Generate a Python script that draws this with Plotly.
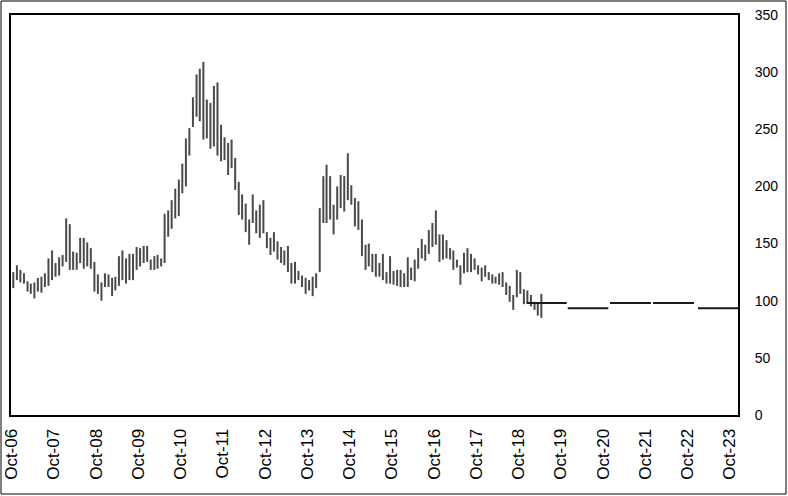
import plotly.graph_objects as go
import pandas as pd

# Monthly high/low bars, Oct-06 .. Apr-19
bar_months = pd.date_range("2006-10-01", periods=151, freq="MS") + pd.Timedelta(days=14)

highs = [125, 131, 127, 124, 117, 115, 116, 120, 121, 124, 137, 144,
         133, 138, 140, 172, 167, 143, 142, 155, 155, 151, 146, 134,
         123, 116, 124, 123, 120, 121, 139, 144, 137, 141, 141, 147,
         146, 148, 148, 136, 139, 140, 137, 176, 179, 188, 198, 206,
         220, 242, 251, 278, 298, 303, 309, 276, 273, 288, 291, 254,
         243, 238, 241, 225, 204, 193, 185, 171, 193, 179, 184, 188,
         160, 155, 160, 152, 147, 144, 148, 133, 134, 126, 122, 120,
         118, 121, 124, 181, 209, 219, 209, 184, 200, 210, 209, 229,
         201, 190, 187, 171, 149, 150, 141, 141, 133, 141, 125, 139,
         126, 127, 127, 124, 138, 129, 136, 146, 154, 149, 162, 168,
         179, 158, 158, 153, 146, 144, 136, 131, 142, 146, 141, 137,
         131, 129, 131, 125, 123, 121, 124, 125, 116, 113, 105, 127,
         125, 110, 109, 105, 99, 98, 106]

lows = [111, 118, 116, 115, 108, 106, 102, 108, 107, 112, 113, 118,
        121, 122, 130, 134, 127, 127, 127, 133, 128, 130, 128, 108,
        106, 100, 112, 112, 104, 109, 113, 118, 115, 118, 118, 127,
        130, 133, 134, 127, 127, 128, 130, 133, 156, 163, 172, 174,
        194, 200, 227, 252, 261, 257, 241, 242, 233, 235, 227, 222,
        223, 210, 216, 197, 175, 171, 160, 149, 168, 159, 155, 159,
        146, 140, 143, 136, 133, 131, 125, 115, 115, 118, 112, 106,
        109, 104, 111, 125, 168, 168, 171, 158, 171, 181, 178, 188,
        184, 165, 162, 139, 127, 130, 125, 121, 121, 118, 115, 115,
        114, 113, 112, 112, 112, 118, 117, 128, 137, 135, 141, 147,
        149, 134, 136, 137, 136, 127, 129, 114, 124, 125, 125, 127,
        123, 117, 121, 118, 115, 115, 114, 112, 105, 99, 92, 103,
        106, 97, 98, 95, 92, 87, 85]

# Forward strips (flat annual lines)
strip_start = ["2018-12-09", "2019-11-29", "2020-11-28", "2021-12-05", "2022-12-29"]
strip_end = ["2019-11-20", "2020-11-14", "2021-11-17", "2022-11-25", "2023-12-10"]
strip_value = [98, 93.5, 98, 98, 93.5]

# Axis ticks
x_tick_dates = [f"{y}-10-01" for y in range(2006, 2024)]
x_tick_labels = [f"Oct-{y % 100:02d}" for y in range(2006, 2024)]
y_tick_values = [0, 50, 100, 150, 200, 250, 300, 350]

bx, by = [], []
for d, h, l in zip(bar_months, highs, lows):
    bx += [d, d, None]
    by += [l, h, None]

sx, sy = [], []
for s, e, v in zip(strip_start, strip_end, strip_value):
    sx += [s, e, None]
    sy += [v, v, None]

fig = go.Figure()
fig.add_trace(go.Scatter(x=bx, y=by, mode="lines",
                         line=dict(color="#4a4a4a", width=2),
                         hoverinfo="skip", showlegend=False))
fig.add_trace(go.Scatter(x=sx, y=sy, mode="lines",
                         line=dict(color="#1a1a1a", width=2),
                         hoverinfo="skip", showlegend=False, cliponaxis=False))

W, H = 788, 496
L, R, T, B = 11, 50, 15, 81
pw, ph = W - L - R, H - T - B

fig.update_layout(
    width=W, height=H,
    margin=dict(l=L, r=R, t=T, b=B, pad=0, autoexpand=False),
    paper_bgcolor="white", plot_bgcolor="white",
    font=dict(family="Liberation Sans, Arial, sans-serif", size=14, color="black"),
    showlegend=False,
    hovermode=False,
    xaxis=dict(
        type="date", automargin=False,
        range=["2006-09-25", "2023-12-10"],
        tickvals=x_tick_dates, ticktext=x_tick_labels,
        tickangle=-90, ticks="outside", ticklen=5, tickcolor="rgba(0,0,0,0)",
        tickfont=dict(size=17),
        showgrid=False, zeroline=False,
        showline=True, linecolor="black", linewidth=2, mirror=True,
    ),
    yaxis=dict(
        side="right", automargin=False,
        range=[0, 350],
        tickvals=y_tick_values,
        ticks="outside", ticklen=12, tickcolor="rgba(0,0,0,0)",
        showgrid=False, zeroline=False,
        showline=True, linecolor="black", linewidth=2, mirror=True,
    ),
    shapes=[dict(
        type="rect", xref="paper", yref="paper",
        x0=(1 - L) / pw, x1=(786 - L) / pw,
        y0=(H - B - 494) / ph, y1=(H - B - 1) / ph,
        line=dict(color="black", width=1), fillcolor="rgba(0,0,0,0)",
        layer="above",
    )],
)

fig.write_html(
    "out.html",
    config={"displayModeBar": False, "staticPlot": True},
    post_script="document.body.style.margin='0';document.body.style.overflow='hidden';",
)
